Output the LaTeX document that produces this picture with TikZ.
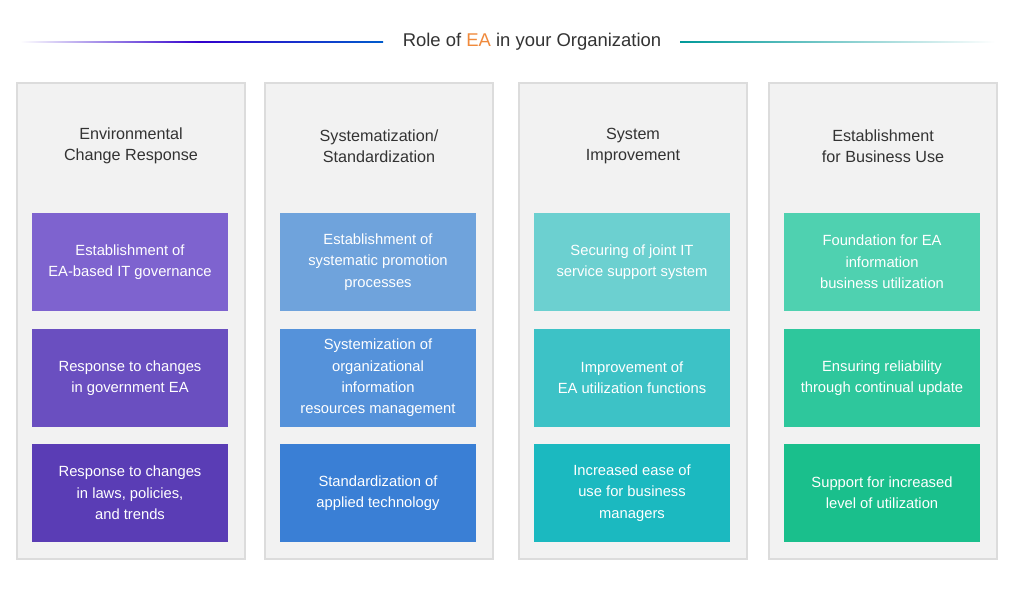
\documentclass[tikz,border=0pt]{standalone}
\usepackage{fontspec}
\setmainfont{Liberation Sans}
\definecolor{panelfill}{HTML}{F2F2F2}
\definecolor{paneldraw}{HTML}{DCDCDC}
\definecolor{headtext}{HTML}{333333}
\definecolor{eaorange}{HTML}{F08A3C}
\definecolor{ca}{HTML}{7E63CF}\definecolor{cb}{HTML}{6A4FC0}\definecolor{cc}{HTML}{5A3DB5}
\definecolor{cd}{HTML}{6FA3DC}\definecolor{ce}{HTML}{5592DA}\definecolor{cf}{HTML}{3A7FD5}
\definecolor{cg}{HTML}{6CD0D0}\definecolor{ch}{HTML}{3DC2C6}\definecolor{ci}{HTML}{1BB9C0}
\definecolor{cj}{HTML}{4FD1B0}\definecolor{ck}{HTML}{2EC79C}\definecolor{cl}{HTML}{1ABF8C}
\begin{document}
\begin{tikzpicture}[x=0.02cm,y=-0.02cm,
    panel/.style={draw=paneldraw, fill=panelfill, line width=0.6pt},
    head/.style={text=headtext, font=\fontsize{9.2}{12}\selectfont, align=center},
    item/.style={minimum width=3.94cm, minimum height=1.98cm, text=white,
        font=\fontsize{8.4}{12.2}\selectfont, align=center, inner sep=0pt}]

    % background
    \useasboundingbox[fill=white] (0,0) rectangle (1024,591);

    % title
    \node[text=headtext, font=\fontsize{10.5}{13}\selectfont] (title) at (532,42)
        {Role of \textcolor{eaorange}{EA} in your Organization};
    \shade[left color=white, right color=blue!60!violet] (20,41.3) rectangle (200,42.7);
    \shade[left color=blue!60!violet, right color=blue!55!cyan!80!black] (200,41.3) rectangle (383,42.7);
    \shade[left color=teal!80!cyan, right color=white] (680,41.3) rectangle (995,42.7);

    % columns
    \foreach \x/\name/\hd in {17/envi/{Environmental\\Change Response},
        265/syst/{Systematization/\\Standardization},
        519/impr/{System\\Improvement},
        769/busi/{Establishment\\for Business Use}}{
        \draw[panel] (\x,83) rectangle ++(228,476);
        \node[head] (\name) at (\x+114,146) {\hd};
    }

    % items
    \foreach \x/\y/\c/\name/\txt in {
        130/262/ca/a1/{Establishment of\\EA-based IT governance},
        130/378/cb/a2/{Response to changes\\in government EA},
        130/493/cc/a3/{Response to changes\\in laws, policies,\\and trends},
        378/262/cd/b1/{Establishment of\\systematic promotion\\processes},
        378/378/ce/b2/{Systemization of\\organizational\\information\\resources management},
        378/493/cf/b3/{Standardization of\\applied technology},
        632/262/cg/c1/{Securing of joint IT\\service support system},
        632/378/ch/c2/{Improvement of\\EA utilization functions},
        632/493/ci/c3/{Increased ease of\\use for business\\managers},
        882/262/cj/d1/{Foundation for EA\\information\\business utilization},
        882/378/ck/d2/{Ensuring reliability\\through continual update},
        882/493/cl/d3/{Support for increased\\level of utilization}}{
        \node[item, fill=\c] (\name) at (\x,\y) {\txt};
    }

\end{tikzpicture}
\end{document}
